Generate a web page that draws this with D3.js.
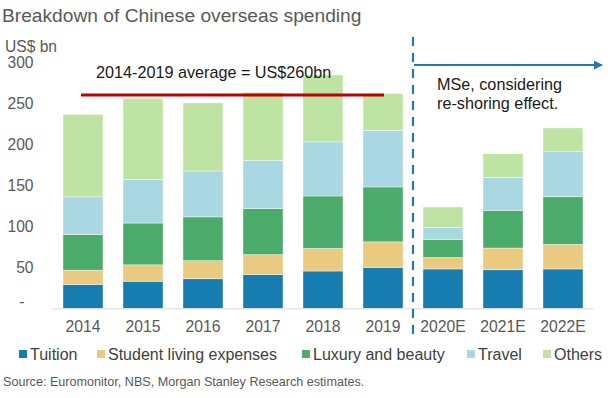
<!DOCTYPE html>
<html><head><meta charset="utf-8">
<script src="https://cdn.jsdelivr.net/npm/d3@7"></script>
<style>body{margin:0;background:#fff;} svg{display:block;font-family:"Liberation Sans",Arial,sans-serif;}</style>
</head><body>
<svg id="c" width="612" height="398"></svg>
<script>
const categories = ["2014","2015","2016","2017","2018","2019","2020E","2021E","2022E"];
const seriesNames = ["Tuition","Student living expenses","Luxury and beauty","Travel","Others"];
const tuition = [29, 33, 36, 41, 45.5, 50, 48, 47, 48];
const living = [17.5, 20, 22, 24.5, 27.5, 31, 14, 26.5, 30];
const luxury = [43.5, 51, 53.5, 56, 64, 67, 22, 46, 58];
const travel = [46, 53, 56, 59, 66, 69, 14.5, 40, 55];
const others = [100.5, 99, 83, 83, 81.5, 45, 25, 29, 29];
const yTicks = [0, 50, 100, 150, 200, 250, 300];
const averageValue = 260;
const colors = ["#177cb0", "#e9ca80", "#4aab6a", "#a9d7e2", "#bee3a3"];

const svg = d3.select("#c");
const x = d3.scaleBand().domain(categories).range([53, 593]).paddingInner(1/3).paddingOuter(1/6);
const y = d3.scaleLinear().domain([0, 300]).range([308.3, 62.3]);

const rows = categories.map((c, i) => ({cat: c, Tuition: tuition[i], "Student living expenses": living[i], "Luxury and beauty": luxury[i], Travel: travel[i], Others: others[i]}));
const stacked = d3.stack().keys(seriesNames)(rows);

// title
svg.append("text").attr("x", 2).attr("y", 22).attr("font-size", 19.2).attr("fill", "#595959").text("Breakdown of Chinese overseas spending");
svg.append("text").attr("x", 5).attr("y", 52).attr("font-size", 15.6).attr("fill", "#595959").text("US$ bn");

// y axis labels
const yAxis = d3.axisLeft(y).tickValues(yTicks).tickSize(0).tickPadding(0).tickFormat(d => d === 0 ? "-" : d);
const ga = svg.append("g").attr("transform", "translate(33.5,0)").call(yAxis);
ga.select(".domain").remove();
ga.selectAll("text").attr("font-size", 15.6).attr("fill", "#595959").attr("font-family", "Liberation Sans, Arial, sans-serif");
ga.selectAll("text").filter(d => d === 0).attr("dx", -9).attr("dy", "-0.1em");

// bars
svg.append("g").selectAll("g").data(stacked).join("g").attr("fill", (d, i) => colors[i])
  .selectAll("rect").data(d => d).join("rect")
  .attr("x", d => x(d.data.cat)).attr("width", x.bandwidth())
  .attr("y", d => y(d[1])).attr("height", d => y(d[0]) - y(d[1]))
  .attr("stroke", "#fff").attr("stroke-width", 0.6).attr("stroke-opacity", 0.7);

// baseline
svg.append("line").attr("x1", 53).attr("x2", 594).attr("y1", y(0) + 0.5).attr("y2", y(0) + 0.5).attr("stroke", "#d9d9d9").attr("stroke-width", 1);

// x axis labels
const xAxis = d3.axisBottom(x).tickSize(0).tickPadding(0);
const gx = svg.append("g").attr("transform", `translate(0,${y(0)})`).call(xAxis);
gx.select(".domain").remove();
gx.selectAll("text").attr("font-size", 15.7).attr("fill", "#595959").attr("dy", 24).attr("font-family", "Liberation Sans, Arial, sans-serif");

// average line
svg.append("line").attr("x1", x("2014") + 18).attr("x2", x("2019") + 21).attr("y1", y(averageValue)).attr("y2", y(averageValue))
  .attr("stroke", "#c00000").attr("stroke-width", 3);
svg.append("text").attr("x", 96).attr("y", 78).attr("font-size", 16.2).attr("fill", "#1a1a1a").text("2014-2019 average = US$260bn");

// dashed divider
const divX = (x("2019") + x.bandwidth() + x("2020E")) / 2;
svg.append("line").attr("x1", divX).attr("x2", divX).attr("y1", 37).attr("y2", 338)
  .attr("stroke", "#2178b0").attr("stroke-width", 2.2).attr("stroke-dasharray", "9,7");
svg.append("defs").append("marker").attr("id", "ah").attr("viewBox", "0 0 10 10").attr("refX", 9).attr("refY", 5)
  .attr("markerWidth", 5).attr("markerHeight", 5).attr("orient", "auto").attr("markerUnits", "strokeWidth")
  .append("path").attr("d", "M0,0L10,5L0,10z").attr("fill", "#2178b0");
svg.append("line").attr("x1", divX + 1).attr("x2", 602).attr("y1", 65).attr("y2", 65)
  .attr("stroke", "#2178b0").attr("stroke-width", 1.8).attr("marker-end", "url(#ah)");
svg.append("text").attr("x", 437).attr("y", 90).attr("font-size", 16.2).attr("fill", "#1a1a1a").text("MSe, considering");
svg.append("text").attr("x", 437).attr("y", 109).attr("font-size", 16.2).attr("fill", "#1a1a1a").text("re-shoring effect.");

// legend
const legX = [19, 97, 302, 467, 543];
const lg = svg.append("g").selectAll("g").data(seriesNames).join("g").attr("transform", (d, i) => `translate(${legX[i]},354)`);
lg.append("rect").attr("x", 0).attr("y", -4).attr("width", 8).attr("height", 8).attr("fill", (d, i) => colors[i]);
lg.append("text").attr("x", 11).attr("y", 5.7).attr("font-size", 16).attr("fill", "#404040").text(d => d);

svg.append("text").attr("x", 3).attr("y", 386).attr("font-size", 12.6).attr("fill", "#595959").text("Source: Euromonitor, NBS, Morgan Stanley Research estimates.");
</script>
</body></html>
